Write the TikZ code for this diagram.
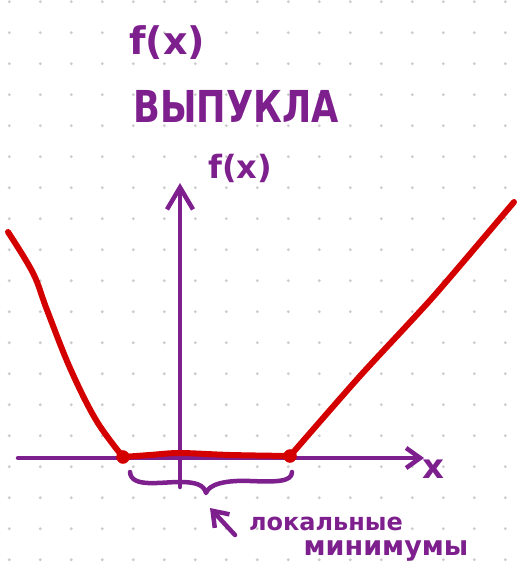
\documentclass[tikz,border=0pt]{standalone}
\usepackage{fontspec}
\setmainfont{DejaVu Sans}
\usetikzlibrary{arrows.meta, positioning}
\definecolor{inkpurple}{HTML}{7E1F8E}
\definecolor{inkred}{HTML}{D40000}
\definecolor{griddot}{HTML}{CCCCCC}

\begin{document}
\begin{tikzpicture}[x=1pt, y=-1pt, line cap=round, line join=round,
  ink/.style={inkpurple, line width=4.5pt},
  curve/.style={inkred, line width=6pt},
  hand/.style={inkpurple, inner sep=0pt}]
  \useasboundingbox (0,0) rectangle (516,572);
  % dotted paper
  \foreach \i in {0,...,16}
    \foreach \j in {0,...,18}
      \fill[griddot] (9.3+31*\i, 1.7+31*\j) circle (1.6);
  % heading
  \node[hand, font=\bfseries\fontsize{38}{40}\selectfont] (title) at (167,43) {f(x)};
  \node[hand, xscale=0.8, font=\bfseries\fontsize{44}{46}\selectfont] (convex) at (236,106) {ВЫПУКЛА};
  % axes
  \draw[ink, -{Straight Barb[length=14pt,width=20pt]}] (18,458) -- (424,458);
  \draw[ink, -{Straight Barb[length=22pt,width=26pt]}] (180,487) -- (180,183);
  \node[hand, font=\bfseries\fontsize{34}{36}\selectfont] (xlab) at (433,469) {x};
  \node[hand, font=\bfseries\fontsize{32}{34}\selectfont] (ylab) at (240,168) {f(x)};
  % minimum points
  \coordinate (mina) at (123,457);
  \coordinate (minb) at (290,456);
  % graph of f
  \draw[curve] plot[smooth, tension=0.6] coordinates
    {(8,232) (33,273) (47,310) (70,368) (96,420) (mina)};
  \draw[curve] plot[smooth, tension=0.5] coordinates
    {(mina) (150,455) (180,453) (230,455) (minb)};
  \draw[curve] plot[smooth, tension=0.4] coordinates
    {(minb) (360,376) (433,297) (514,202)};
  \filldraw[inkred] (mina) circle (6.5);
  \filldraw[inkred] (minb) circle (6.5);
  % brace under the flat part
  \coordinate (bracetip) at (206,493);
  \draw[ink] (130,472) .. controls (131,488) and (160,482) .. (180,482)
    .. controls (196,482) and (204,485) .. (bracetip)
    .. controls (209,484) and (226,480) .. (250,481)
    .. controls (276,482) and (292,482) .. (292,472);
  % pointer and note
  \coordinate (ptail) at (235,535);
  \coordinate (phead) at (210,508);
  \draw[ink, -{Straight Barb[length=14pt,width=20pt]}] (ptail) -- (phead);
  \node[hand, font=\bfseries\fontsize{24}{26}\selectfont] (local) at (326,524) {локальные};
  \node[hand, font=\bfseries\fontsize{27}{29}\selectfont] (mins) at (386,551) {минимумы};
\end{tikzpicture}
\end{document}
